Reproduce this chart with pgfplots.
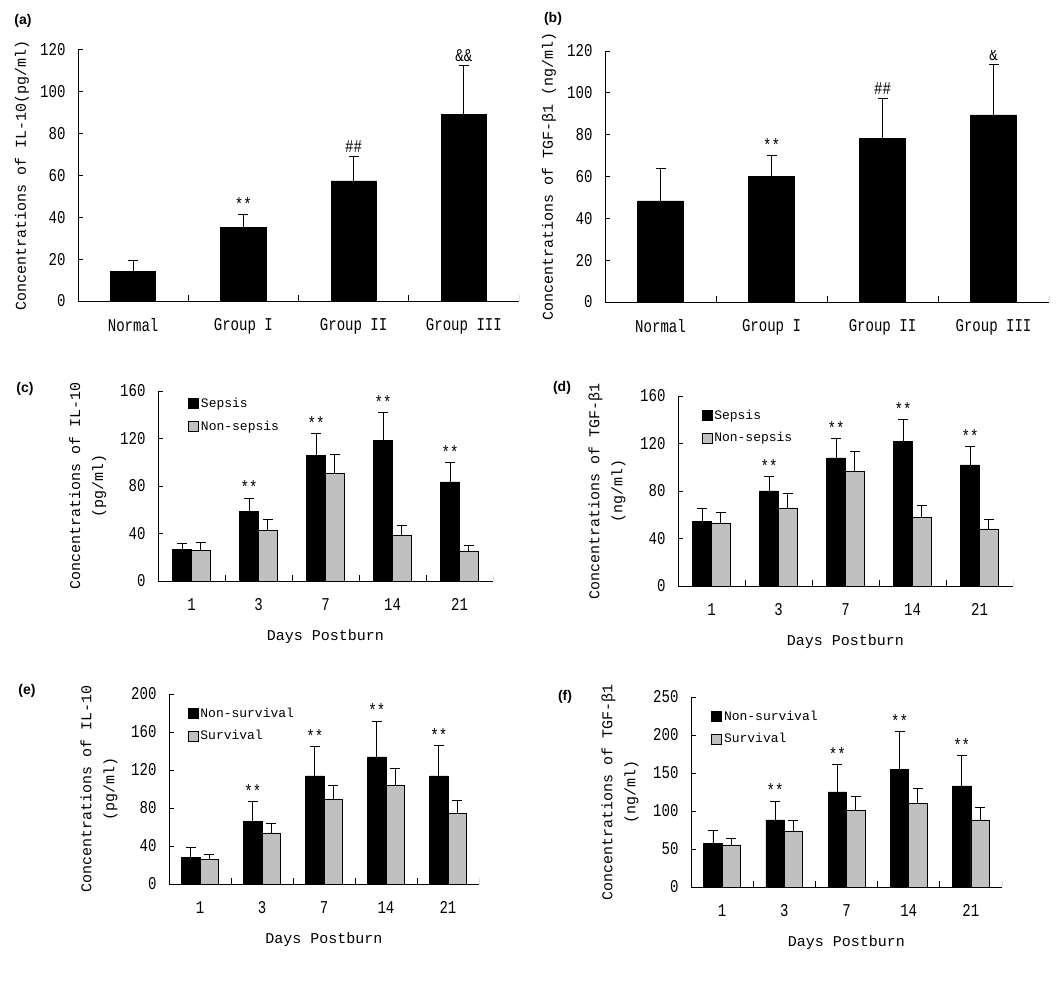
\documentclass[border=0pt]{standalone}
\usepackage{pgfplots}
\pgfplotsset{compat=1.18}
\usepackage{fontspec}
\setmainfont{Liberation Mono}
\newfontfamily\tickfont{Liberation Mono}[FakeStretch=0.78]
\newfontfamily\panelfont{Liberation Sans}
\definecolor{barGray}{RGB}{192,192,192}

\pgfplotstableread{
x y e
0 14.0 5.6
1 35.3 6.1
2 57.3 11.7
3 89.2 23.2
}\tabA
\pgfplotstableread{
x y e
0 48.3 15.6
1 60.2 9.9
2 78.4 19.0
3 89.4 24.2
}\tabB
\pgfplotstableread{
x y e
0 26.9 5.1
1 58.4 11.5
2 106.1 18.5
3 118.7 23.6
4 83.4 16.8
}\tabCs
\pgfplotstableread{
x y e
0 26.1 6.7
1 42.9 9.3
2 90.9 16.0
3 38.7 8.5
4 25.3 5.0
}\tabCn
\pgfplotstableread{
x y e
0 54.7 11.0
1 80.0 12.6
2 107.8 16.6
3 122.1 18.3
4 101.9 15.7
}\tabDs
\pgfplotstableread{
x y e
0 53.1 9.2
1 65.7 12.3
2 96.8 16.9
3 58.1 10.1
4 48.0 8.4
}\tabDn
\pgfplotstableread{
x y e
0 28.4 10.2
1 66.3 20.7
2 113.7 31.2
3 133.7 37.9
4 113.7 32.3
}\tabEn
\pgfplotstableread{
x y e
0 26.3 5.3
1 53.7 10.2
2 89.5 14.4
3 104.2 17.6
4 74.7 13.4
}\tabEs
\pgfplotstableread{
x y e
0 57.0 17.6
1 88.2 25.0
2 125.0 36.4
3 154.4 50.4
4 132.9 40.3
}\tabFn
\pgfplotstableread{
x y e
0 55.3 8.7
1 73.7 14.0
2 101.3 18.0
3 110.5 19.8
4 88.2 17.1
}\tabFs

\pgfplotsset{
  myaxis/.style={
    scale only axis,
    anchor=south west,
    ybar,
    axis x line*=bottom, axis y line*=left,
    axis line style={-, line width=0.8pt},
    tick align=inside,
    major tick length=5pt,
    ytick style={line width=0.8pt, black},
    xtick style={draw=none},
    ymin=0,
    tick label style={font=\tickfont\fontsize{18}{20}\selectfont},
    /pgf/number format/assume math mode=true,
    yticklabel style={xshift=-9pt},
    xticklabel style={yshift=-14pt},
    label style={font=\fontsize{15}{23}\selectfont, align=center},
    legend style={draw=none, fill=none, font=\fontsize{13}{15}\selectfont, anchor=north west, row sep=8pt, inner sep=0pt},
    legend cell align=left,
    legend image code/.code={\draw[#1, draw=black, line width=0.6pt] (0pt,-5pt) rectangle (10pt,5pt);},
  },
  eb/.style={error bars/.cd, y dir=plus, y explicit,
    error bar style={line width=0.8pt, black},
    error mark options={rotate=90, mark size=5pt, line width=0.8pt, black}},
  blackbar/.style={fill=black, draw=black, line width=0.6pt},
  graybar/.style={fill=barGray, draw=black, line width=0.6pt},
}
\newcommand{\sig}[3]{\node[anchor=base, font=\tickfont\fontsize{18}{18}\selectfont, inner sep=0pt] at (axis cs:#1,#2) [yshift=4pt] {#3};}
\newcommand{\bticks}[1]{\pgfplotsinvokeforeach{#1}{\draw[line width=0.8pt] (axis cs:##1,0) -- ([yshift=6pt]axis cs:##1,0);}}

\begin{document}
\begin{tikzpicture}
\useasboundingbox (0,0) rectangle (1058pt,983pt);

% (a)
\begin{axis}[myaxis, at={(78pt,682pt)}, width=441pt, height=251.5pt,
  xmin=-0.5, xmax=3.5, ymax=120, ytick distance=20,
  bar width=0.41,
  xtick={0,1,2,3}, xticklabels={Normal, Group I, Group II, Group III},
  ylabel={Concentrations of IL-10(pg/ml)},
  ylabel style={at={(axis description cs:-0.127,0.5)}, anchor=center},
]
\addplot[blackbar, eb] table[x=x, y=y, y error=e]{\tabA};
\bticks{0.5,1.5,2.5,3.5}
\sig{1}{41.4}{**}
\sig{2}{69.0}{\#\#}
\sig{3}{112.4}{\&\&}
\end{axis}

% (b)
\begin{axis}[myaxis, at={(605pt,681pt)}, width=444pt, height=251pt,
  xmin=-0.5, xmax=3.5, ymax=120, ytick distance=20,
  bar width=0.41,
  xtick={0,1,2,3}, xticklabels={Normal, Group I, Group II, Group III},
  ylabel={Concentrations of TGF-β1 (ng/ml)},
  ylabel style={at={(axis description cs:-0.126,0.5)}, anchor=center},
]
\addplot[blackbar, eb] table[x=x, y=y, y error=e]{\tabB};
\bticks{0.5,1.5,2.5,3.5}
\sig{1}{70.1}{**}
\sig{2}{97.4}{\#\#}
\sig{3}{113.6}{\&}
\end{axis}

% (c)
\begin{axis}[myaxis, at={(158pt,402pt)}, width=335pt, height=190pt,
  xmin=-0.5, xmax=4.5, ymax=160, ytick distance=40,
  bar width=0.28,
  xtick={0,1,2,3,4}, xticklabels={1,3,7,14,21},
  xlabel={Days Postburn},
  xlabel style={at={(axis description cs:0.5,-0.295)}, anchor=center},
  ylabel={Concentrations of IL-10\\(pg/ml)},
  ylabel style={at={(axis description cs:-0.21,0.5)}, anchor=center},
  legend style={at={(axis description cs:0.09,0.975)}},
]
\addplot[blackbar, bar shift=-0.14, eb] table[x=x, y=y, y error=e]{\tabCs};
\addplot[graybar, bar shift=0.14, eb] table[x=x, y=y, y error=e]{\tabCn};
\legend{Sepsis, Non-sepsis}
\bticks{0.5,1.5,2.5,3.5,4.5}
\sig{0.86}{69.9}{**}
\sig{1.86}{124.6}{**}
\sig{2.86}{142.3}{**}
\sig{3.86}{100.2}{**}
\end{axis}

% (d)
\begin{axis}[myaxis, at={(678pt,397pt)}, width=335pt, height=190pt,
  xmin=-0.5, xmax=4.5, ymax=160, ytick distance=40,
  bar width=0.28,
  xtick={0,1,2,3,4}, xticklabels={1,3,7,14,21},
  xlabel={Days Postburn},
  xlabel style={at={(axis description cs:0.5,-0.295)}, anchor=center},
  ylabel={Concentrations of TGF-β1\\(ng/ml)},
  ylabel style={at={(axis description cs:-0.212,0.5)}, anchor=center},
  legend style={at={(axis description cs:0.07,0.94)}},
]
\addplot[blackbar, bar shift=-0.14, eb] table[x=x, y=y, y error=e]{\tabDs};
\addplot[graybar, bar shift=0.14, eb] table[x=x, y=y, y error=e]{\tabDn};
\legend{Sepsis, Non-sepsis}
\bticks{0.5,1.5,2.5,3.5,4.5}
\sig{0.86}{92.6}{**}
\sig{1.86}{124.4}{**}
\sig{2.86}{140.4}{**}
\sig{3.86}{117.6}{**}
\end{axis}

% (e)
\begin{axis}[myaxis, at={(169pt,99pt)}, width=310pt, height=190pt,
  xmin=-0.5, xmax=4.5, ymax=200, ytick distance=40,
  bar width=0.296,
  xtick={0,1,2,3,4}, xticklabels={1,3,7,14,21},
  xlabel={Days Postburn},
  xlabel style={at={(axis description cs:0.5,-0.295)}, anchor=center},
  ylabel={Concentrations of IL-10\\(pg/ml)},
  ylabel style={at={(axis description cs:-0.226,0.5)}, anchor=center},
  legend style={at={(axis description cs:0.06,0.94)}},
]
\addplot[blackbar, bar shift=-0.148, eb] table[x=x, y=y, y error=e]{\tabEn};
\addplot[graybar, bar shift=0.148, eb] table[x=x, y=y, y error=e]{\tabEs};
\legend{Non-survival, Survival}
\bticks{0.5,1.5,2.5,3.5,4.5}
\sig{0.852}{87.0}{**}
\sig{1.852}{144.9}{**}
\sig{2.852}{171.6}{**}
\sig{3.852}{146.0}{**}
\end{axis}

% (f)
\begin{axis}[myaxis, at={(691pt,96pt)}, width=311pt, height=190pt,
  xmin=-0.5, xmax=4.5, ymax=250, ytick distance=50,
  bar width=0.295,
  xtick={0,1,2,3,4}, xticklabels={1,3,7,14,21},
  xlabel={Days Postburn},
  xlabel style={at={(axis description cs:0.5,-0.295)}, anchor=center},
  ylabel={Concentrations of TGF-β1\\(ng/ml)},
  ylabel style={at={(axis description cs:-0.228,0.5)}, anchor=center},
  legend style={at={(axis description cs:0.065,0.94)}},
]
\addplot[blackbar, bar shift=-0.1475, eb] table[x=x, y=y, y error=e]{\tabFn};
\addplot[graybar, bar shift=0.1475, eb] table[x=x, y=y, y error=e]{\tabFs};
\legend{Non-survival, Survival}
\bticks{0.5,1.5,2.5,3.5,4.5}
\sig{0.8525}{113.2}{**}
\sig{1.8525}{161.4}{**}
\sig{2.8525}{204.8}{**}
\sig{3.8525}{173.2}{**}
\end{axis}

% panel letters
\begin{scope}[every node/.style={font=\panelfont\bfseries\fontsize{14}{14}\selectfont}]
\node at (23pt,962pt) {(a)};
\node at (553pt,964pt) {(b)};
\node at (25pt,594pt) {(c)};
\node at (562pt,595pt) {(d)};
\node at (27pt,292pt) {(e)};
\node at (565pt,286pt) {(f)};
\end{scope}
\end{tikzpicture}
\end{document}
